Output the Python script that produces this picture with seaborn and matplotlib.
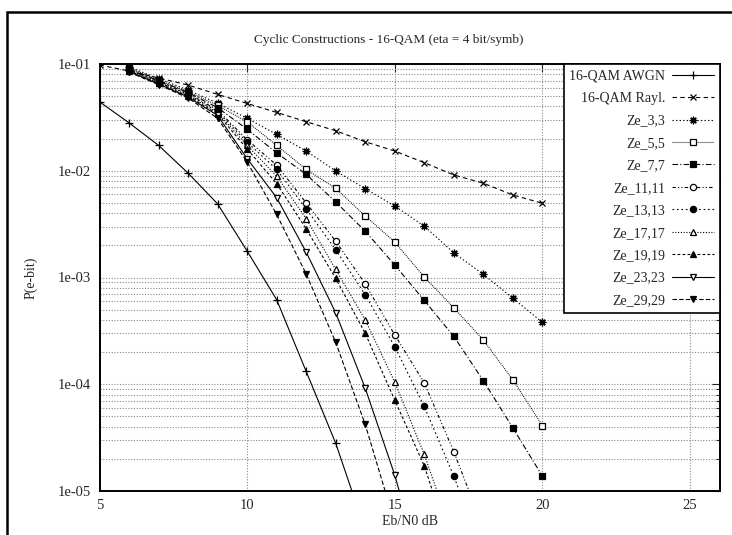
import matplotlib
matplotlib.use("Agg")
import matplotlib.pyplot as plt
from matplotlib.patches import Rectangle
from matplotlib.ticker import LogLocator, NullFormatter, FixedLocator
import numpy as np
import pandas as pd
import seaborn as sns

# Eb/N0 points
snr_full = [5, 6, 7, 8, 9, 10, 11, 12, 13, 14, 15, 16, 17, 18, 19, 20]
snr_awgn = [5, 6, 7, 8, 9, 10, 11, 12, 13, 14]

awgn = [4.43e-2, 2.81e-2, 1.73e-2, 9.5e-3, 4.9e-3, 1.77e-3, 6.2e-4, 1.32e-4, 2.8e-5, 4.3e-6]
rayl = [9.8e-2, 8.6e-2, 7.4e-2, 6.35e-2, 5.19e-2, 4.27e-2, 3.52e-2, 2.88e-2, 2.37e-2,
        1.87e-2, 1.53e-2, 1.19e-2, 9.14e-3, 7.64e-3, 5.93e-3, 4.96e-3]

snr_ze = [6, 7, 8, 9, 10, 11, 12, 13, 14, 15, 16, 17, 18, 19, 20]
ze_3 = [9.4e-2, 7.3e-2, 5.7e-2, 4.3e-2, 3.1e-2, 2.19e-2, 1.53e-2, 9.96e-3, 6.8e-3,
        4.67e-3, 3.03e-3, 1.7e-3, 1.07e-3, 6.4e-4, 3.8e-4]
ze_5 = [9.2e-2, 7.1e-2, 5.5e-2, 4.1e-2, 2.87e-2, 1.73e-2, 1.03e-2, 6.85e-3, 3.77e-3,
        2.15e-3, 1.01e-3, 5.2e-4, 2.6e-4, 1.1e-4, 4.1e-5]
ze_7 = [9.0e-2, 7.0e-2, 5.4e-2, 3.9e-2, 2.45e-2, 1.47e-2, 9.27e-3, 5.1e-3, 2.72e-3,
        1.31e-3, 6.1e-4, 2.81e-4, 1.08e-4, 3.9e-5, 1.38e-5]

snr_11 = [6, 7, 8, 9, 10, 11, 12, 13, 14, 15, 16, 17, 18]
ze_11 = [8.9e-2, 6.9e-2, 5.3e-2, 3.7e-2, 1.95e-2, 1.13e-2, 5.0e-3, 2.19e-3, 8.7e-4,
         2.9e-4, 1.03e-4, 2.34e-5, 4.5e-6]
ze_13 = [8.8e-2, 6.8e-2, 5.2e-2, 3.6e-2, 1.85e-2, 1.03e-2, 4.4e-3, 1.82e-3, 6.9e-4,
         2.25e-4, 6.2e-5, 1.38e-5, 2.5e-6]

snr_17 = [6, 7, 8, 9, 10, 11, 12, 13, 14, 15, 16, 17]
ze_17 = [8.7e-2, 6.7e-2, 5.1e-2, 3.5e-2, 1.73e-2, 8.9e-3, 3.56e-3, 1.19e-3, 4.0e-4,
         1.05e-4, 2.2e-5, 3.5e-6]
ze_19 = [8.6e-2, 6.6e-2, 5.0e-2, 3.4e-2, 1.6e-2, 7.58e-3, 2.86e-3, 9.8e-4, 3.0e-4,
         7.1e-5, 1.72e-5, 2.5e-6]

snr_23 = [6, 7, 8, 9, 10, 11, 12, 13, 14, 15, 16]
ze_23 = [8.5e-2, 6.5e-2, 4.9e-2, 3.3e-2, 1.3e-2, 5.6e-3, 1.73e-3, 4.67e-4, 9.2e-5,
         1.41e-5, 1.5e-6]
snr_29 = [6, 7, 8, 9, 10, 11, 12, 13, 14, 15]
ze_29 = [8.4e-2, 6.4e-2, 4.8e-2, 3.1e-2, 1.21e-2, 3.9e-3, 1.08e-3, 2.47e-4, 4.2e-5, 5e-6]

x_ticks = [5, 10, 15, 20, 25]
y_ticks = [1e-5, 1e-4, 1e-3, 1e-2, 1e-1]
y_labels = ["1e-05", "1e-04", "1e-03", "1e-02", "1e-01"]

sns.set_style("white")
plt.rcParams['font.family'] = ['Liberation Serif', 'DejaVu Serif']
plt.rcParams['font.size'] = 10

fig = plt.figure(figsize=(7.32, 5.35), dpi=100)
ax = fig.add_axes([99.5 / 732, 1 - 491 / 535, 620 / 732, 427 / 535])

# (label, x, y, linestyle, marker, filled, size)
series = [
    ("16-QAM AWGN", snr_awgn, awgn, "-", "+", True, 5.5),
    ("16-QAM Rayl.", snr_full, rayl, (0, (4, 3)), "x", True, 4.5),
    ("Ze_3,3", snr_ze, ze_3, (0, (1.2, 2)), (8, 2, 0), True, 5.5),
    ("Ze_5,5", snr_ze, ze_5, (0, (0.8, 1)), "s", False, 4.5),
    ("Ze_7,7", snr_ze, ze_7, (0, (5, 2, 1, 2)), "s", True, 4.5),
    ("Ze_11,11", snr_11, ze_11, (0, (3, 2, 1, 2, 1, 2)), "o", False, 4.5),
    ("Ze_13,13", snr_11, ze_13, (0, (1.5, 2.5)), "o", True, 4.5),
    ("Ze_17,17", snr_17, ze_17, (0, (1, 1.5)), "^", False, 4.5),
    ("Ze_19,19", snr_17, ze_19, (0, (2.5, 2)), "^", True, 4),
    ("Ze_23,23", snr_23, ze_23, "-", "v", False, 5),
    ("Ze_29,29", snr_29, ze_29, (0, (4, 2)), "v", True, 4.5),
]

for label, xs, ys, ls, mk, filled, ms in series:
    df = pd.DataFrame({"snr": xs, "pe": ys})
    sns.lineplot(data=df, x="snr", y="pe", ax=ax, color="black", linestyle=ls,
                 linewidth=0.8, marker=mk, markersize=ms,
                 markerfacecolor="black" if filled else "white",
                 markeredgecolor="black", markeredgewidth=0.9, label=label)

ax.set_yscale("log")
ax.set_xlim(5, 26)
ax.set_ylim(1e-5, 1e-1)
ax.set_xticks(x_ticks)
ax.set_xticklabels([str(v) for v in x_ticks])
ax.yaxis.set_major_locator(FixedLocator(y_ticks))
ax.set_yticklabels(y_labels)
ax.yaxis.set_minor_locator(LogLocator(base=10, subs=np.arange(2, 10), numticks=20))
ax.yaxis.set_minor_formatter(NullFormatter())

ax.grid(True, which="major", axis="x", color="#888888", linestyle=(0, (1, 1.5)), linewidth=0.8)
ax.grid(True, which="both", axis="y", color="#888888", linestyle=(0, (1, 1.5)), linewidth=0.8)
ax.tick_params(which="major", direction="in", length=6, top=True, right=True, width=0.8,
               labelsize=10.5, pad=6)
ax.tick_params(which="minor", direction="in", length=3, top=True, right=True, width=0.8)
for sp in ax.spines.values():
    sp.set_color("black")
    sp.set_linewidth(1.4)

fig.text(389 / 732, 1 - 40 / 535, "Cyclic Constructions - 16-QAM (eta = 4 bit/symb)",
         ha="center", va="center", fontsize=9.5)
ax.set_xlabel("Eb/N0 dB", fontsize=10, labelpad=2)
ax.set_ylabel("P(e-bit)", fontsize=10, labelpad=15)

leg = ax.legend(loc="upper right", markerfirst=False, frameon=True, fancybox=False,
                edgecolor="black", framealpha=1, borderaxespad=0, fontsize=10,
                handlelength=3.0, handletextpad=0.5, labelspacing=0.68,
                borderpad=0.4)
leg.get_frame().set_linewidth(1.2)

# outer page border (partially cut at right and bottom)
fig.patches.append(Rectangle((7 / 732, -0.1), 1.2, 1 - 12 / 535 + 0.1,
                             transform=fig.transFigure, fill=False,
                             edgecolor="black", linewidth=1.8))

fig.savefig("out.png", dpi=100)
